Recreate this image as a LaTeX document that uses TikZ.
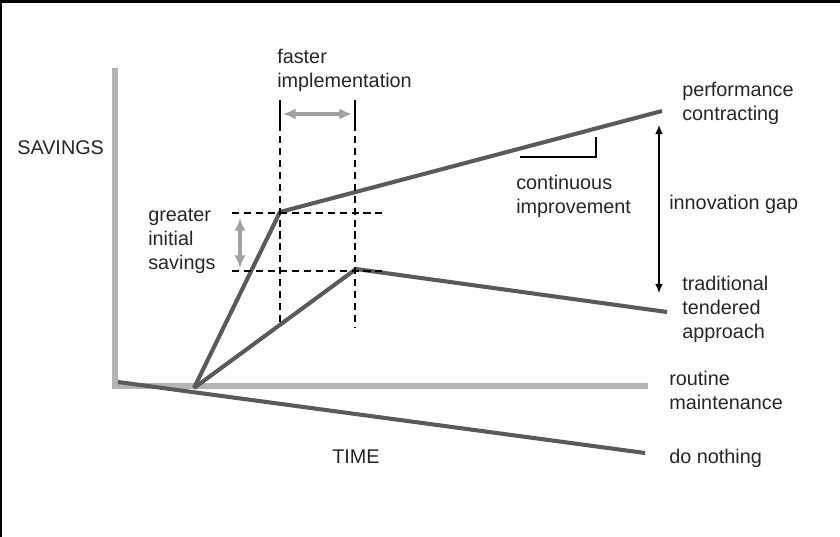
\documentclass[tikz,border=0pt]{standalone}
\usepackage{fontspec}
\setmainfont{Liberation Sans}
\usetikzlibrary{arrows.meta}

\definecolor{curvegray}{HTML}{5A5A5A}
\definecolor{axisgray}{HTML}{B4B4B4}
\definecolor{hintgray}{HTML}{A0A0A0}

\tikzset{
  label/.style={inner sep=0pt,anchor=west,align=left,text=black!85,
    font=\fontsize{14.1}{17}\selectfont},
  curve/.style={line width=2.9pt,color=curvegray,line join=round},
  axis/.style={line width=3.6pt,color=axisgray},
  guide/.style={line width=0.9pt,dash pattern=on 5pt off 3.5pt},
  hint/.style={line width=2.4pt,color=hintgray,{Latex[length=9pt,width=8pt]}-{Latex[length=9pt,width=8pt]}},
  gap/.style={line width=0.8pt,{Latex[length=6.5pt,width=5.5pt]}-{Latex[length=6.5pt,width=5.5pt]}}
}

\begin{document}
\begin{tikzpicture}[x=0.025cm,y=-0.025cm]
\useasboundingbox (0,0) rectangle (840,537);

% frame
\draw[line width=1.5pt] (1,537) -- (1,1.5) -- (840,1.5);

% points
\coordinate (top) at (115,68);
\coordinate (corner) at (115,386);
\coordinate (rend) at (648,386);
\coordinate (start) at (118,382);
\coordinate (dend) at (645,453);
\coordinate (o) at (194,388);
\coordinate (p1) at (280,212);
\coordinate (p2) at (662,111);
\coordinate (t1) at (356,269);
\coordinate (t2) at (667,312);

% nodes
\node (savings) [label] at (17,148) {SAVINGS};
\node (time) [label] at (332,457) {TIME};
\node (faster) [label] at (277,70) {faster\\implementation};
\node (greater) [label] at (148,241) {greater\\initial\\savings};
\node (contin) [label] at (516,196) {continuous\\improvement};
\node (innov) [label] at (669,204) {innovation gap};
\node (perf) [label] at (682,103) {performance\\contracting};
\node (trad) [label] at (682,309) {traditional\\tendered\\approach};
\node (routine) [label] at (669,390) {routine\\maintenance};
\node (nothing) [label] at (669,458) {do nothing};

% axes
\draw[axis] (top) -- (corner) -- (rend);

% lines
\draw[curve] (start) -- (dend);
\draw[curve] (o) -- (p1) -- (p2);
\draw[curve] (o) -- (t1) -- (t2);

% guides
\draw[guide] (232,213) -- (382,213);
\draw[guide] (232,271) -- (382,271);
\draw[guide] (280,100) -- (280,323);
\draw[guide] (355,100) -- (355,328);
\draw[line width=0.9pt] (280,100) -- (280,127);
\draw[line width=0.9pt] (355,100) -- (355,127);

% arrows
\draw[hint] (283,114) -- (352,114);
\draw[hint] (240,218) -- (240,268);
\draw[gap] (659,125) -- (659,293);
\draw[line width=1pt] (520,157) -- (596,157) -- (596,137);
\end{tikzpicture}
\end{document}
